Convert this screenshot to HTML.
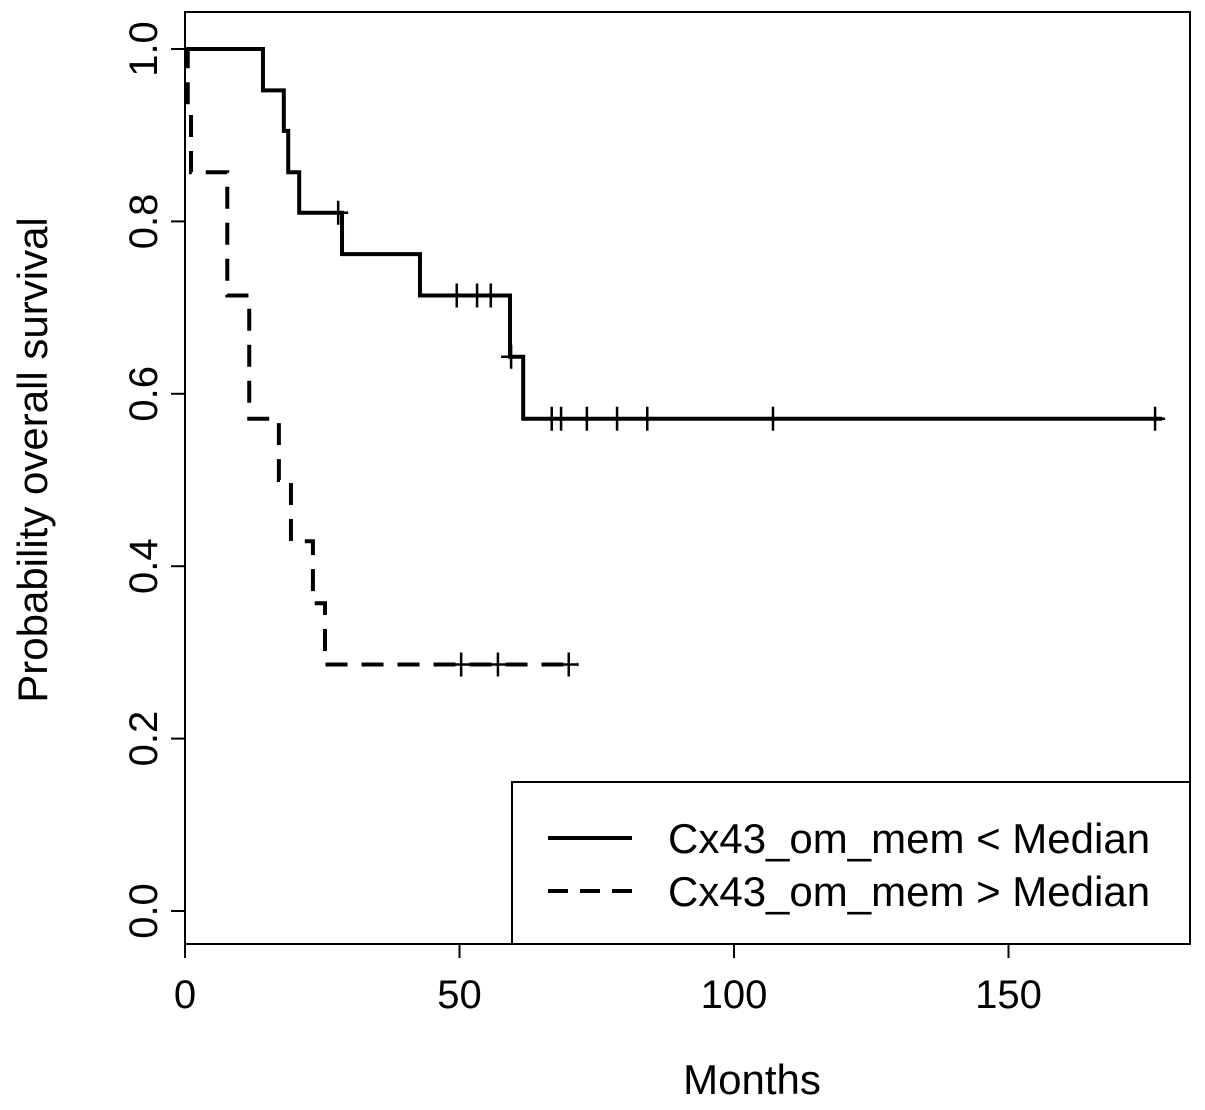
<!DOCTYPE html>
<html><head><meta charset="utf-8"><style>
body{margin:0;background:#fff;}
svg{display:block;font-family:"Liberation Sans",sans-serif;}
</style></head><body>
<svg id="chart" width="1205" height="1110"></svg>
<script>
const xTicks=[0,50,100,150];
const yTicks=[0,0.2,0.4,0.6,0.8,1.0];
const yTickLabels=["0.0","0.2","0.4","0.6","0.8","1.0"];
const lowTimes=[0,14.2,18,18.8,20.8,28.6,42.8,59.2,61.6];
const lowSurv=[1,0.952,0.905,0.857,0.810,0.762,0.714,0.643,0.571];
const lowEnd=178;
const lowCensor=[27.9,49.5,53.2,55.7,59.4,66.8,68.5,73.2,78.7,84.2,107.1,176.7];
const highTimes=[0,0.5,1.1,7.7,11.7,17.1,19.3,23.3,25.5];
const highSurv=[1,0.929,0.857,0.714,0.571,0.5,0.429,0.357,0.286];
const highEnd=71.6;
const highCensor=[50.3,57,69.9];
const legendLabels=["Cx43_om_mem < Median","Cx43_om_mem > Median"];

const NS="http://www.w3.org/2000/svg";
const svg=document.getElementById('chart');
const X=m=>185+m*5.49;
const Y=v=>911-v*862;
function el(t,a,p){const e=document.createElementNS(NS,t);for(const k in a)e.setAttribute(k,a[k]);(p||svg).appendChild(e);return e;}

const frame=el('rect',{x:185,y:12,width:1005,height:932,fill:'none',stroke:'#000','stroke-width':2});



xTicks.forEach(t=>{
  const l=el('line',{x1:X(t),x2:X(t),y1:944,y2:958,stroke:'#000','stroke-width':2});
  
  
  const tx=el('text',{x:X(t),y:1008,'font-size':40,'text-anchor':'middle'});
  tx.textContent=t;
  
  
});
yTicks.forEach((t,i)=>{
  const l=el('line',{x1:171,x2:185,y1:Y(t),y2:Y(t),stroke:'#000','stroke-width':2});
  
  
  const tx=el('text',{x:0,y:0,'font-size':40,'text-anchor':'middle',transform:`translate(157,${Y(t)}) rotate(-90)`});
  tx.textContent=yTickLabels[i];
  
  
});
const xt=el('text',{x:752,y:1094,'font-size':42,'text-anchor':'middle'});
xt.textContent='Months';


const yt=el('text',{x:0,y:0,'font-size':42,'text-anchor':'middle',transform:'translate(47,460) rotate(-90)'});
yt.textContent='Probability overall survival';



function stepPath(times,surv,end){
  let d=`M${X(times[0])},${Y(surv[0])}`;
  for(let i=1;i<times.length;i++){d+=` H${X(times[i])} V${Y(surv[i])}`;}
  d+=` H${X(end)}`;return d;
}
function survAt(times,surv,t){let s=surv[0];for(let i=0;i<times.length;i++)if(times[i]<=t)s=surv[i];return s;}

const p1=el('path',{d:stepPath(lowTimes,lowSurv,lowEnd),fill:'none',stroke:'#000','stroke-width':4});


const p2=el('path',{d:stepPath(highTimes,highSurv,highEnd),fill:'none',stroke:'#000','stroke-width':4,'stroke-dasharray':'22 14'});



function censor(times,surv,c,name){
  c.forEach(t=>{
    const x=X(t),y=Y(survAt(times,surv,t));
    const g=el('path',{d:`M${x},${y-12} V${y+12} M${x-10},${y} H${x+10}`,stroke:'#000','stroke-width':2.5});
    
    
  });
}
censor(lowTimes,lowSurv,lowCensor,'censor-mark-below');
censor(highTimes,highSurv,highCensor,'censor-mark-above');

const lg=el('rect',{x:512,y:782,width:678,height:162,fill:'#fff',stroke:'#000','stroke-width':2});


legendLabels.forEach((s,i)=>{
  const y=838+i*53;
  const l=el('line',{x1:548,x2:632,y1:y,y2:y,stroke:'#000','stroke-width':4});
  if(i===1)l.setAttribute('stroke-dasharray','20 12');
  
  
  const tx=el('text',{x:668,y:y+15,'font-size':42});
  tx.textContent=s;
  
  
});
</script>
</body></html>
